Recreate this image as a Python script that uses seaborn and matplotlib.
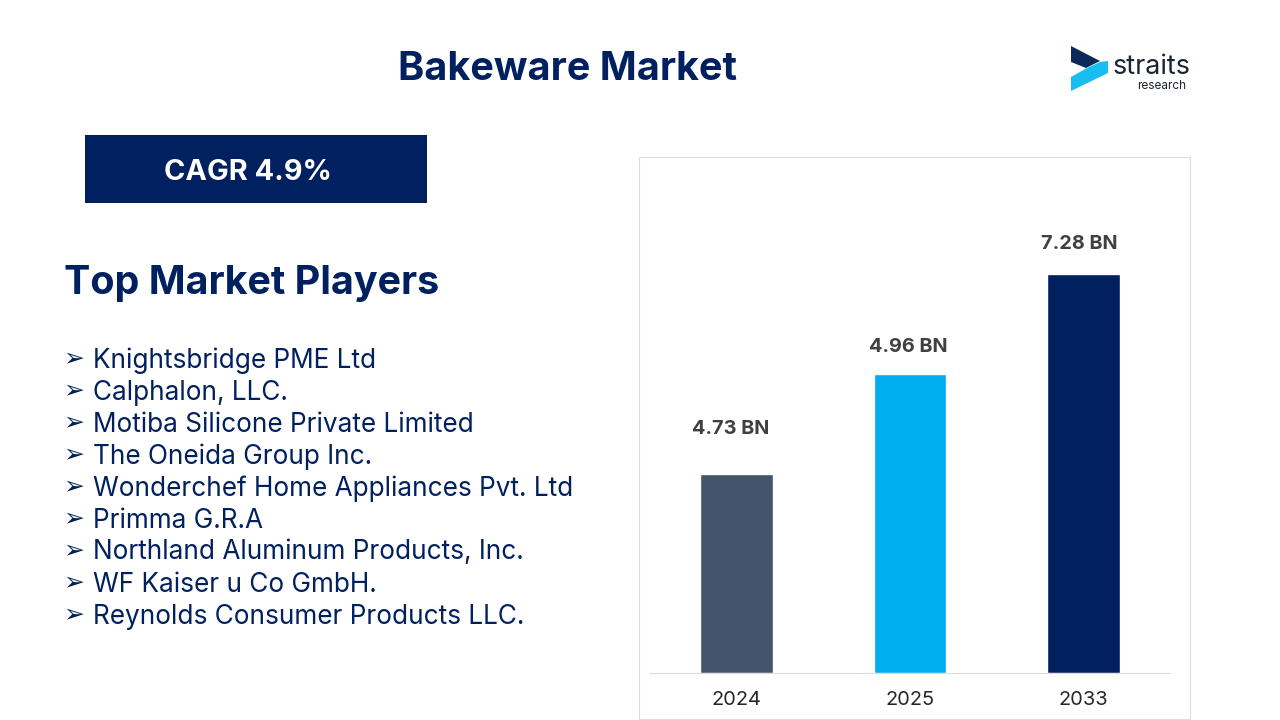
"""
Bakeware market slide: headline, list of players and a small bar chart.
"""

import matplotlib.pyplot as plt
from matplotlib.patches import Polygon, Rectangle
import pandas as pd
import seaborn as sns

# Bar heights are read off the picture, the slide does not draw them to scale
years = ['2024', '2025', '2033']
bar_heights = [199, 299, 399]
bar_labels = ['4.73 BN', '4.96 BN', '7.28 BN']
label_offsets = [45, 27, 30]
label_shifts = [-0.035, -0.01, -0.025]
bar_colors = ['#44546A', '#00AEEF', '#00205F']

players = [
    'Knightsbridge PME Ltd',
    'Calphalon, LLC.',
    'Motiba Silicone Private Limited',
    'The Oneida Group Inc.',
    'Wonderchef Home Appliances Pvt. Ltd',
    'Primma G.R.A',
    'Northland Aluminum Products, Inc.',
    'WF Kaiser u Co GmbH.',
    'Reynolds Consumer Products LLC.',
]

NAVY = '#00205F'
W, H = 1280, 720

sns.set_theme(style='white')
plt.rcParams['font.family'] = ['Inter', 'DejaVu Sans']


def fx(x):
    return x / W


def fy(y):
    return 1 - y / H


fig = plt.figure(figsize=(12.8, 7.2), dpi=100, facecolor='white')

# Page layer in pixel coordinates, y going down like the reference
page = fig.add_axes([0, 0, 1, 1], zorder=0)
page.set_xlim(0, W)
page.set_ylim(H, 0)
page.axis('off')

page.text(567.5, 69, 'Bakeware Market', fontsize=28.5, fontweight='bold',
          color=NAVY, ha='center', va='center')

# CAGR box
page.add_patch(Rectangle((85, 135), 342, 68, facecolor=NAVY, edgecolor='none'))
page.text(247.5, 173, 'CAGR 4.9%', fontsize=20.8, fontweight='bold',
          color='white', ha='center', va='center')

page.text(63.5, 283, 'Top Market Players', fontsize=28.4, fontweight='bold',
          color=NAVY, ha='left', va='center')

# Players list
for i, name in enumerate(players):
    y = 360.5 + i * 32
    page.text(73.5, y - 2, '\u27a2', fontsize=18, color=NAVY, ha='center',
              va='center', family='DejaVu Sans')
    page.text(93, y, name, fontsize=18.85, color=NAVY, ha='left', va='center')

# Chart frame
page.add_patch(Rectangle((639, 157), 551, 562, facecolor='white',
                         edgecolor='#DDDDDD', linewidth=0.8))

# Logo
page.add_patch(Polygon([(1071, 46), (1100, 61), (1086, 68), (1071, 62)],
                       facecolor='#0B2A5B', edgecolor='none'))
page.add_patch(Polygon([(1071, 77), (1087, 68), (1100, 62), (1108, 61),
                        (1108, 73), (1071, 91)],
                       facecolor='#19BDF2', edgecolor='none'))
page.text(1113, 67, 'straits', fontsize=19.4, color='#1A2433', ha='left', va='center')
page.text(1137, 86, 'research', fontsize=8.5, color='#1A2433', ha='left', va='center')

# Bar chart, axes run from the baseline up to the chart frame
ax = fig.add_axes([fx(650), fy(673), fx(520), 516 / H], zorder=1)
ax.patch.set_alpha(0)
df = pd.DataFrame({'year': years, 'height': bar_heights})
sns.barplot(data=df, x='year', y='height', hue='year', palette=bar_colors,
            legend=False, width=0.42, saturation=1, ax=ax)
ax.set_xlim(-0.5, 2.5)
ax.set_ylim(0, 516)
ax.set_xlabel('')
ax.set_ylabel('')
ax.set_yticks([])
ax.tick_params(axis='x', length=0, pad=13, labelsize=14.4, labelcolor='#262626')
for side in ['top', 'left', 'right']:
    ax.spines[side].set_visible(False)
ax.spines['bottom'].set_color('#DDDDDD')
ax.spines['bottom'].set_linewidth(0.8)

for i, (h, lab) in enumerate(zip(bar_heights, bar_labels)):
    ax.text(i + label_shifts[i], h + label_offsets[i], lab, fontsize=14.3,
            fontweight='bold', color='#404040', ha='center', va='center')

fig.savefig('out.png', dpi=100)
